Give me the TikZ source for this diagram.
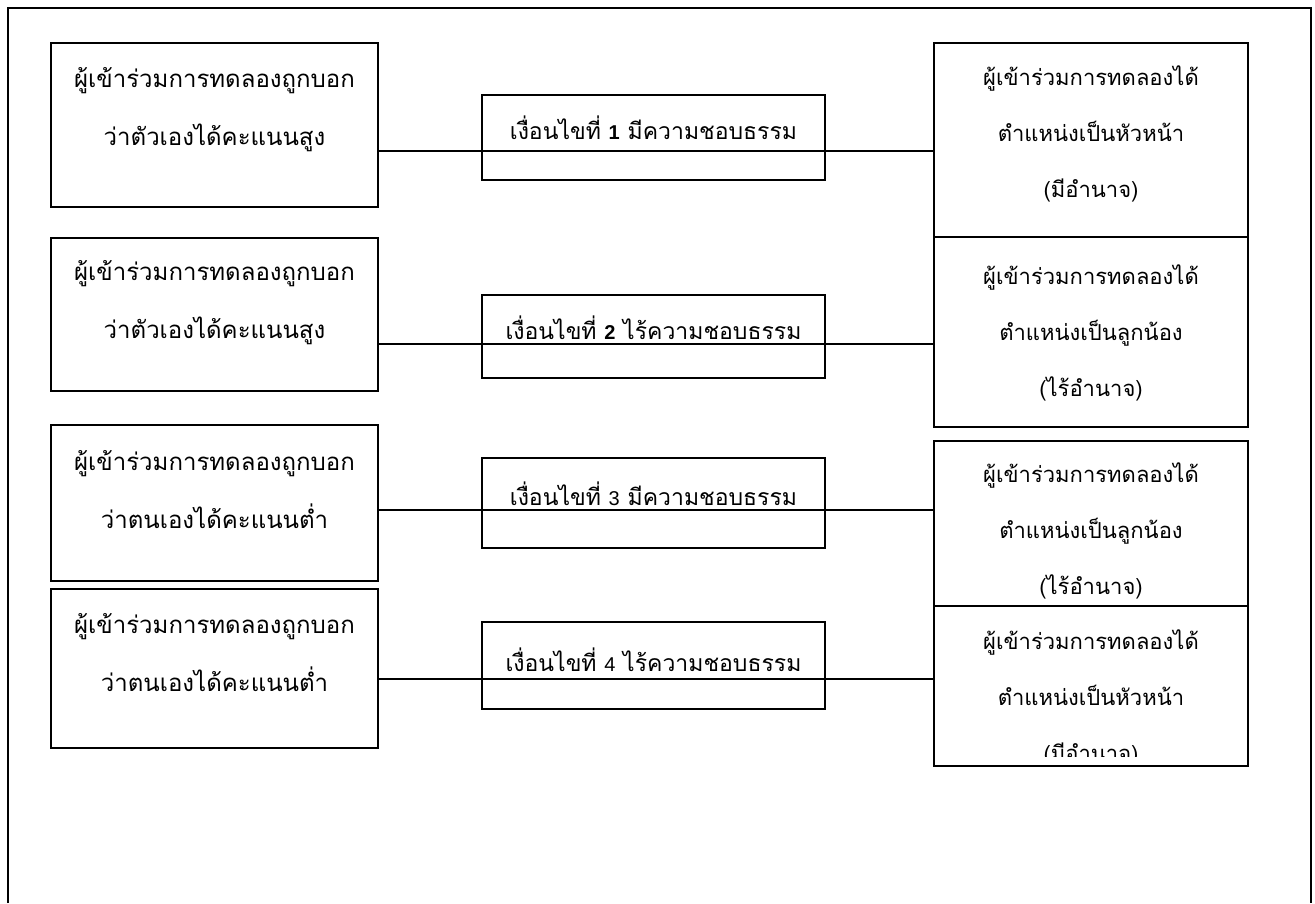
\documentclass[tikz,border=0pt]{standalone}
\usepackage{fontspec}
\newfontfamily\thaifont[Script=Thai]{Loma}
\newfontfamily\numfont{Liberation Sans}
\newcommand{\thaitext}{\thaifont\fontsize{24}{58}\selectfont}
\newcommand{\thaitextm}{\thaifont\fontsize{23}{58}\selectfont}
\newcommand{\thaitextr}{\thaifont\fontsize{22}{56}\selectfont}
\newcommand{\condno}[1]{{\numfont\fontsize{20}{58}\selectfont #1}}

\begin{document}
\begin{tikzpicture}[x=1pt,y=-1pt,
    box/.style={draw,line width=2pt,rectangle,anchor=north west,inner sep=0pt},
    lbox/.style={box,minimum width=327pt,minimum height=#1},
    mbox/.style={box,minimum width=343pt,minimum height=#1},
    rbox/.style={box,minimum width=314pt,minimum height=#1},
    ltext/.style={anchor=north,align=center,inner sep=0pt,font=\thaitext},
    mtext/.style={anchor=north,align=center,inner sep=0pt,font=\thaitextm},
    rtext/.style={anchor=north,align=center,inner sep=0pt,font=\thaitextr},
    link/.style={draw,line width=1.6pt}]

  \useasboundingbox (0,0) rectangle (1315,903);
  % frame, open at the bottom
  \draw[line width=2pt] (8,903) -- (8,8) -- (1311,8) -- (1311,903);

  % left column
  \node[lbox=164pt] (l1) at (50,42) {};
  \node[lbox=153pt] (l2) at (50,237) {};
  \node[lbox=156pt] (l3) at (50,424) {};
  \node[lbox=159pt] (l4) at (50,588) {};

  % conditions
  \node[mbox=85pt] (m1) at (481,94) {};
  \node[mbox=83pt] (m2) at (481,294) {};
  \node[mbox=90pt] (m3) at (481,457) {};
  \node[mbox=87pt] (m4) at (481,621) {};

  % right column
  \node[rbox=194pt] (r1) at (933,42) {};
  \node[rbox=190pt] (r2) at (933,236) {};
  \node[rbox=165pt] (r3) at (933,440) {};
  \node[rbox=160pt] (r4) at (933,605) {};

  \node[ltext] (l1t) at ([yshift=-5pt]l1.north) {\strut ผู้เข้าร่วมการทดลองถูกบอก\\ว่าตัวเองได้คะแนนสูง};
  \node[ltext] (l2t) at ([yshift=-3pt]l2.north) {\strut ผู้เข้าร่วมการทดลองถูกบอก\\ว่าตัวเองได้คะแนนสูง};
  \node[ltext] (l3t) at ([yshift=-6pt]l3.north) {\strut ผู้เข้าร่วมการทดลองถูกบอก\\ว่าตนเองได้คะแนนต่ำ};
  \node[ltext] (l4t) at ([yshift=-5pt]l4.north) {\strut ผู้เข้าร่วมการทดลองถูกบอก\\ว่าตนเองได้คะแนนต่ำ};

  \node[mtext] (m1t) at ([yshift=-5pt]m1.north) {\strut เงื่อนไขที่ \condno{\bfseries 1} มีความชอบธรรม};
  \node[mtext] (m2t) at ([yshift=-5pt]m2.north) {\strut เงื่อนไขที่ \condno{\bfseries 2} ไร้ความชอบธรรม};
  \node[mtext] (m3t) at ([yshift=-8pt]m3.north) {\strut เงื่อนไขที่ \condno{3} มีความชอบธรรม};
  \node[mtext] (m4t) at ([yshift=-10pt]m4.north) {\strut เงื่อนไขที่ \condno{4} ไร้ความชอบธรรม};

  \node[rtext] (r1t) at ([yshift=-4pt]r1.north) {\strut ผู้เข้าร่วมการทดลองได้\\ตำแหน่งเป็นหัวหน้า\\(มีอำนาจ)};
  \node[rtext] (r2t) at ([yshift=-9pt]r2.north) {\strut ผู้เข้าร่วมการทดลองได้\\ตำแหน่งเป็นลูกน้อง\\(ไร้อำนาจ)};
  \node[rtext] (r3t) at ([yshift=-3pt]r3.north) {\strut ผู้เข้าร่วมการทดลองได้\\ตำแหน่งเป็นลูกน้อง\\(ไร้อำนาจ)};
  \begin{scope}
    % text runs past the box and is cut off
    \clip (r4.north west) rectangle ([yshift=11pt]r4.south east);
    \node[rtext] (r4t) at ([yshift=-5pt]r4.north) {\strut ผู้เข้าร่วมการทดลองได้\\ตำแหน่งเป็นหัวหน้า\\(มีอำนาจ)};
  \end{scope}

  % connectors through the condition boxes
  \coordinate (y1) at (0,151);
  \coordinate (y2) at (0,344);
  \coordinate (y3) at (0,510);
  \coordinate (y4) at (0,679);
  \draw[link] (l1.east |- y1) -- (r1.west |- y1);
  \draw[link] (l2.east |- y2) -- (r2.west |- y2);
  \draw[link] (l3.east |- y3) -- (r3.west |- y3);
  \draw[link] (l4.east |- y4) -- (r4.west |- y4);

\end{tikzpicture}
\end{document}
